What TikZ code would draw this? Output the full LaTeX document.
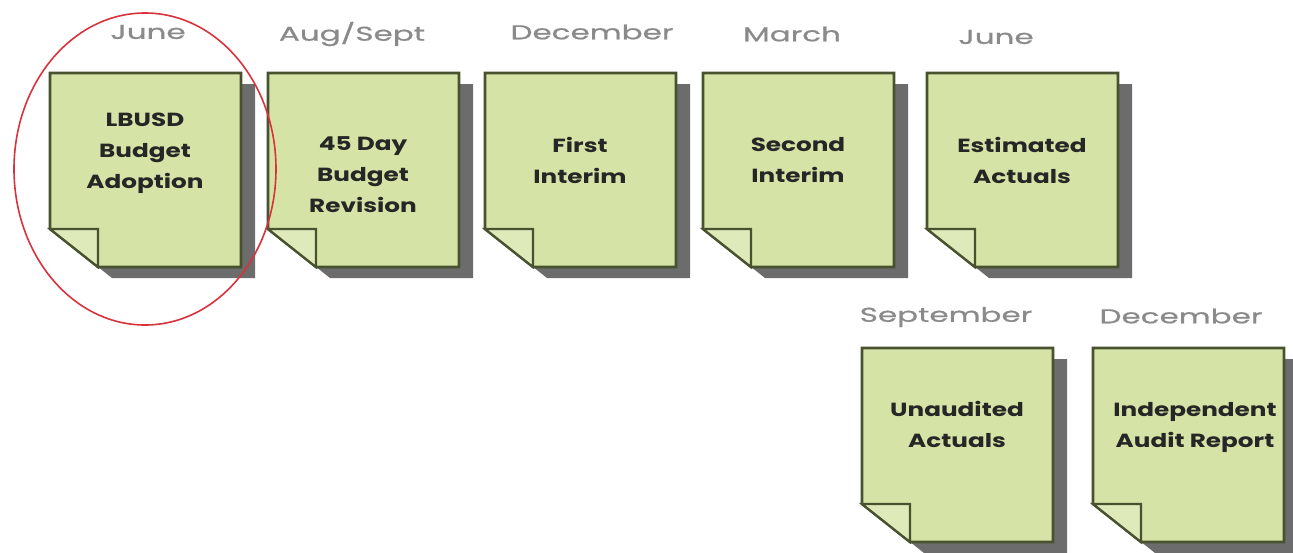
\documentclass[tikz,border=0pt]{standalone}
\usepackage{fontspec}
\setmainfont{Poppins}
\newfontfamily\monthfont[FakeStretch=1.55, FakeBold=0.8]{Poppins}
\newfontfamily\docfont[FakeStretch=1.3]{Poppins}
\usetikzlibrary{positioning}

\definecolor{pagegreen}{HTML}{D5E3A6}
\definecolor{flapgreen}{HTML}{DEEABA}
\definecolor{pageline}{HTML}{48522F}
\definecolor{pageshadow}{HTML}{6C6C6C}
\definecolor{monthgray}{HTML}{8A8A8A}
\definecolor{ringred}{HTML}{D8323C}

\tikzset{
  page shadow/.style = {fill=pageshadow},
  page body/.style   = {fill=pagegreen, draw=pageline, line width=2.6pt, line join=miter},
  page flap/.style   = {fill=flapgreen, draw=pageline, line width=2.2pt, line join=miter},
  doc text/.style    = {font=\docfont\bfseries\fontsize{19}{31}\selectfont, align=center, text=black!85, inner sep=0pt},
  month/.style       = {font=\monthfont\fontsize{20}{24}\selectfont, text=monthgray, inner sep=0pt},
}

% one sheet with folded corner: name, top left corner
\newcommand{\docpage}[2]{%
  \coordinate (#1) at (#2);
  \fill[page shadow] ([shift={(14,11)}]#1) -- ++(191,0) -- ++(0,194) -- ++(-143,0) -- ++(-48,-38) -- cycle;
  \draw[page body] (#1) -- ++(191,0) -- ++(0,194) -- ++(-143,0) -- ++(-48,-38) -- cycle;
  \draw[page flap] ([shift={(0,156)}]#1) -- ++(48,0) -- ++(0,38) -- cycle;
}

\begin{document}
\begin{tikzpicture}[x=1pt, y=-1pt]
    \useasboundingbox (0,0) rectangle (1293,552);

    % sheets
    \docpage{doc_1}{50,73}
    \docpage{doc_2}{268,73}
    \docpage{doc_3}{485,73}
    \docpage{doc_4}{703,73}
    \docpage{doc_5}{927,73}
    \docpage{doc_6}{862,348}
    \docpage{doc_7}{1093,348}

    % sheet texts
    \node[doc text] (text_1) at (145,153) {LBUSD\\Budget\\Adoption};
    \node[doc text] (text_2) at (363,175) {45 Day\\Budget\\Revision};
    \node[doc text] (text_3) at (580,160) {First\\Interim};
    \node[doc text] (text_4) at (798,160) {Second\\Interim};
    \node[doc text] (text_5) at (1022,160) {Estimated\\Actuals};
    \node[doc text] (text_6) at (957,424) {Unaudited\\Actuals};
    \node[doc text] (text_7) at (1195,427) {Independent\\Audit Report};

    % months
    \node[month] (month_1) at (148,32)  {June};
    \node[month] (month_2) at (352,34)  {Aug/Sept};
    \node[month] (month_3) at (592,32)  {December};
    \node[month] (month_4) at (792,34)  {March};
    \node[month] (month_5) at (996,37)  {June};
    \node[month] (month_6) at (946,317) {September};
    \node[month] (month_7) at (1181,316) {December};

    % highlight
    \draw[ringred, line width=1.6pt] (145,169) ellipse [x radius=131, y radius=156];
\end{tikzpicture}
\end{document}
